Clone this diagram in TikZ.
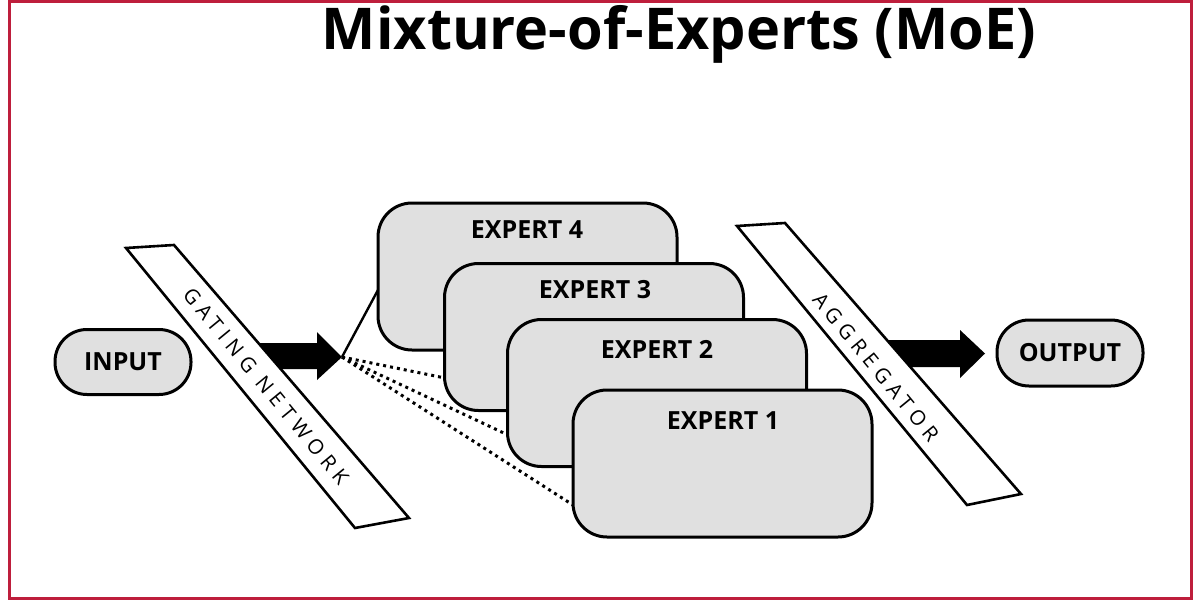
\documentclass[tikz,border=0pt]{standalone}
\usepackage{fontspec}
\setmainfont{Open Sans}
\definecolor{frame}{HTML}{BE1E3C}
\definecolor{boxgray}{HTML}{E0E0E0}
\begin{document}
\begin{tikzpicture}[x=0.5pt,y=-0.5pt,
  expert/.style={draw,line width=1.5pt,fill=boxgray,rounded corners=17pt,minimum width=149.5pt,minimum height=73.5pt,inner sep=0},
  elabel/.style={font=\fontsize{12.5}{14}\selectfont\bfseries},
  band/.style={draw,line width=1.3pt,fill=white},
  bandtext/.style={font=\fontsize{10.3}{12}\selectfont\addfontfeature{LetterSpace=28}},
  blockarrow/.style={fill=black}]
\useasboundingbox (0,0) rectangle (1200,600);
\draw[frame,line width=1.5pt] (9,1) rectangle (1191,598);
\node[font=\fontsize{28.8}{32}\selectfont\bfseries] (title) at (679,34) {Mixture-of-Experts (MoE)};
% input / output
\node[draw,line width=1.5pt,fill=boxgray,rounded corners=16pt,minimum width=68pt,minimum height=32.5pt,font=\fontsize{12.5}{14}\selectfont\bfseries] (in) at (123,362) {INPUT};
\node[draw,line width=1.5pt,fill=boxgray,rounded corners=16pt,minimum width=73pt,minimum height=33pt,font=\fontsize{12.5}{14}\selectfont\bfseries] (out) at (1070,353) {OUTPUT};
% arrows
\coordinate (gtip) at (342,357);
\fill[blockarrow] (255,343) -- (317,343) -- (317,332) -- (gtip) -- (317,380) -- (317,369) -- (255,369) -- cycle;
\coordinate (atip) at (985,353.5);
\fill[blockarrow] (880,340) -- (960,340) -- (960,330) -- (atip) -- (960,378) -- (960,367) -- (880,367) -- cycle;
% gating band
\draw[band] (126,248) -- (174,245) -- (409,518) -- (355,528) -- cycle;
\node[bandtext,rotate=-50.6] (gate) at (266,386) {GATING NETWORK};
% aggregator band
\draw[band] (737,226) -- (785,223) -- (1021,494) -- (967,505) -- cycle;
\node[bandtext,rotate=-50.6] (agg) at (876,367) {AGGREGATOR};
% experts
\node[expert] (e4) at (527.5,276.5) {};
\node[elabel] at (527,230) {EXPERT 4};
\node[expert] (e3) at (594,337) {};
\node[elabel] at (595,290) {EXPERT 3};
\node[expert] (e2) at (657,393) {};
\node[elabel] at (657,349) {EXPERT 2};
\node[expert] (e1) at (722.5,463.5) {};
\node[elabel] at (723,421) {EXPERT 1};
% connectors
\coordinate (c4) at (378,290);
\coordinate (c3) at (445,378);
\coordinate (c2) at (508,435);
\coordinate (c1) at (573,505);
\draw[line width=1.2pt] (gtip) -- (c4);
\draw[line width=1.5pt,dotted] (gtip) -- (c3);
\draw[line width=1.5pt,dotted] (gtip) -- (c2);
\draw[line width=1.5pt,dotted] (gtip) -- (c1);
\end{tikzpicture}
\end{document}
